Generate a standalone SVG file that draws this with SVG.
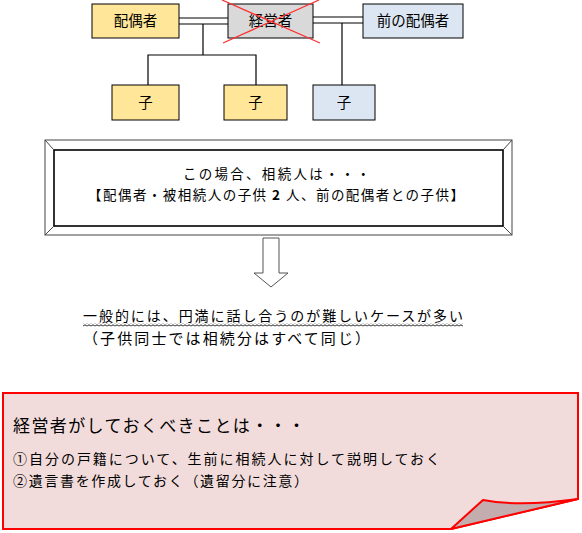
<svg xmlns="http://www.w3.org/2000/svg" width="582" height="533" viewBox="0 0 582 533">
<defs>
<style>
.t{font-family:"Noto Sans CJK JP","Noto Sans CJK SC",sans-serif;fill:#000}
.box{stroke:#000;stroke-width:1}
.ln{stroke:#000;stroke-width:1.2;fill:none}
.yel{fill:#FFE699}
.blu{fill:#DCE6F2}
.gry{fill:#D9D9D9}
</style>
<pattern id="wave" x="0" y="0" width="4" height="3" patternUnits="userSpaceOnUse">
<path d="M0,1.5 Q1,0 2,1.5 T4,1.5" fill="none" stroke="#000" stroke-width="0.9"/>
</pattern>
</defs>
<rect width="582" height="533" fill="#fff"/>

<g id="connectors">
<line class="ln" x1="179" y1="18" x2="228" y2="18"/>
<line class="ln" x1="179" y1="24" x2="228" y2="24"/>
<line class="ln" x1="313" y1="17" x2="363" y2="17"/>
<line class="ln" x1="313" y1="23" x2="363" y2="23"/>
<polyline class="ln" points="203,24 203,55"/>
<polyline class="ln" points="148,85 148,55 256,55 256,85"/>
<line class="ln" x1="342" y1="23" x2="342" y2="85"/>
</g>

<g id="spouse">
<rect class="box yel" x="92" y="4" width="87" height="34"/>
<text class="t" x="135.5" y="26" font-size="14.5" text-anchor="middle">配偶者</text>
</g>
<g id="owner">
<rect class="box gry" x="228" y="4" width="85" height="34"/>
<text class="t" x="270.5" y="26" font-size="14.5" text-anchor="middle">経営者</text>
<line x1="222" y1="0" x2="320" y2="43" stroke="#FF3030" stroke-width="1.3"/>
<line x1="319" y1="0" x2="223" y2="43" stroke="#FF3030" stroke-width="1.3"/>
</g>
<g id="prev-spouse">
<rect class="box blu" x="363" y="4" width="100" height="34"/>
<text class="t" x="413" y="26" font-size="14.5" text-anchor="middle">前の配偶者</text>
</g>
<g id="child1">
<rect class="box yel" x="112" y="85" width="67" height="35"/>
<text class="t" x="145.5" y="108" font-size="14.5" text-anchor="middle">子</text>
</g>
<g id="child2">
<rect class="box yel" x="224" y="85" width="63" height="35"/>
<text class="t" x="255.5" y="108" font-size="14.5" text-anchor="middle">子</text>
</g>
<g id="child3">
<rect class="box blu" x="313" y="85" width="62" height="35"/>
<text class="t" x="344" y="108" font-size="14.5" text-anchor="middle">子</text>
</g>

<g id="heirs-box">
<rect x="45" y="140" width="467" height="95" fill="#fff" stroke="#444" stroke-width="1"/>
<rect x="54" y="150" width="449" height="76" fill="#fff" stroke="#000" stroke-width="1.6"/>
<line x1="45" y1="140" x2="54" y2="150" stroke="#444" stroke-width="1"/>
<line x1="512" y1="140" x2="503" y2="150" stroke="#444" stroke-width="1"/>
<line x1="45" y1="235" x2="54" y2="226" stroke="#444" stroke-width="1"/>
<line x1="512" y1="235" x2="503" y2="226" stroke="#444" stroke-width="1"/>
<text class="t" x="183" y="179" font-size="13.5" textLength="187" lengthAdjust="spacing">この場合、相続人は・・・</text>
<text class="t" x="88" y="200" font-size="13.5" textLength="376" lengthAdjust="spacing">【配偶者・被相続人の子供 <tspan font-weight="bold">2</tspan> 人、前の配偶者との子供】</text>
</g>

<g id="arrow">
<polygon points="263,238 279,238 279,273 288,273 271,287 254,273 263,273" fill="#fff" stroke="#555" stroke-width="1"/>
</g>

<g id="result-text">
<text class="t" x="83" y="321" font-size="14" textLength="380" lengthAdjust="spacing">一般的には、円満に話し合うのが難しいケースが多い</text>
<rect x="83" y="323.5" width="380" height="3" fill="url(#wave)"/>
<text class="t" x="83" y="344" font-size="15" textLength="287" lengthAdjust="spacing">（子供同士では相続分はすべて同じ）</text>
</g>

<g id="note">
<path d="M3,393 L578,393 L578,499 L451,529 L3,529 Z" fill="#F2DCDB" stroke="#FF0000" stroke-width="2" stroke-linejoin="miter"/>
<path d="M451,529 L483,500 Q520,507 578,499 Z" fill="#C3ADAF" stroke="#FF0000" stroke-width="2" stroke-linejoin="round"/>
<text class="t" x="13" y="432" font-size="17" textLength="292" lengthAdjust="spacing">経営者がしておくべきことは・・・</text>
<text class="t" x="13" y="464" font-size="14" textLength="427" lengthAdjust="spacing">①自分の戸籍について、生前に相続人に対して説明しておく</text>
<text class="t" x="13" y="486" font-size="14" textLength="295" lengthAdjust="spacing">②遺言書を作成しておく（遺留分に注意）</text>
</g>
</svg>
